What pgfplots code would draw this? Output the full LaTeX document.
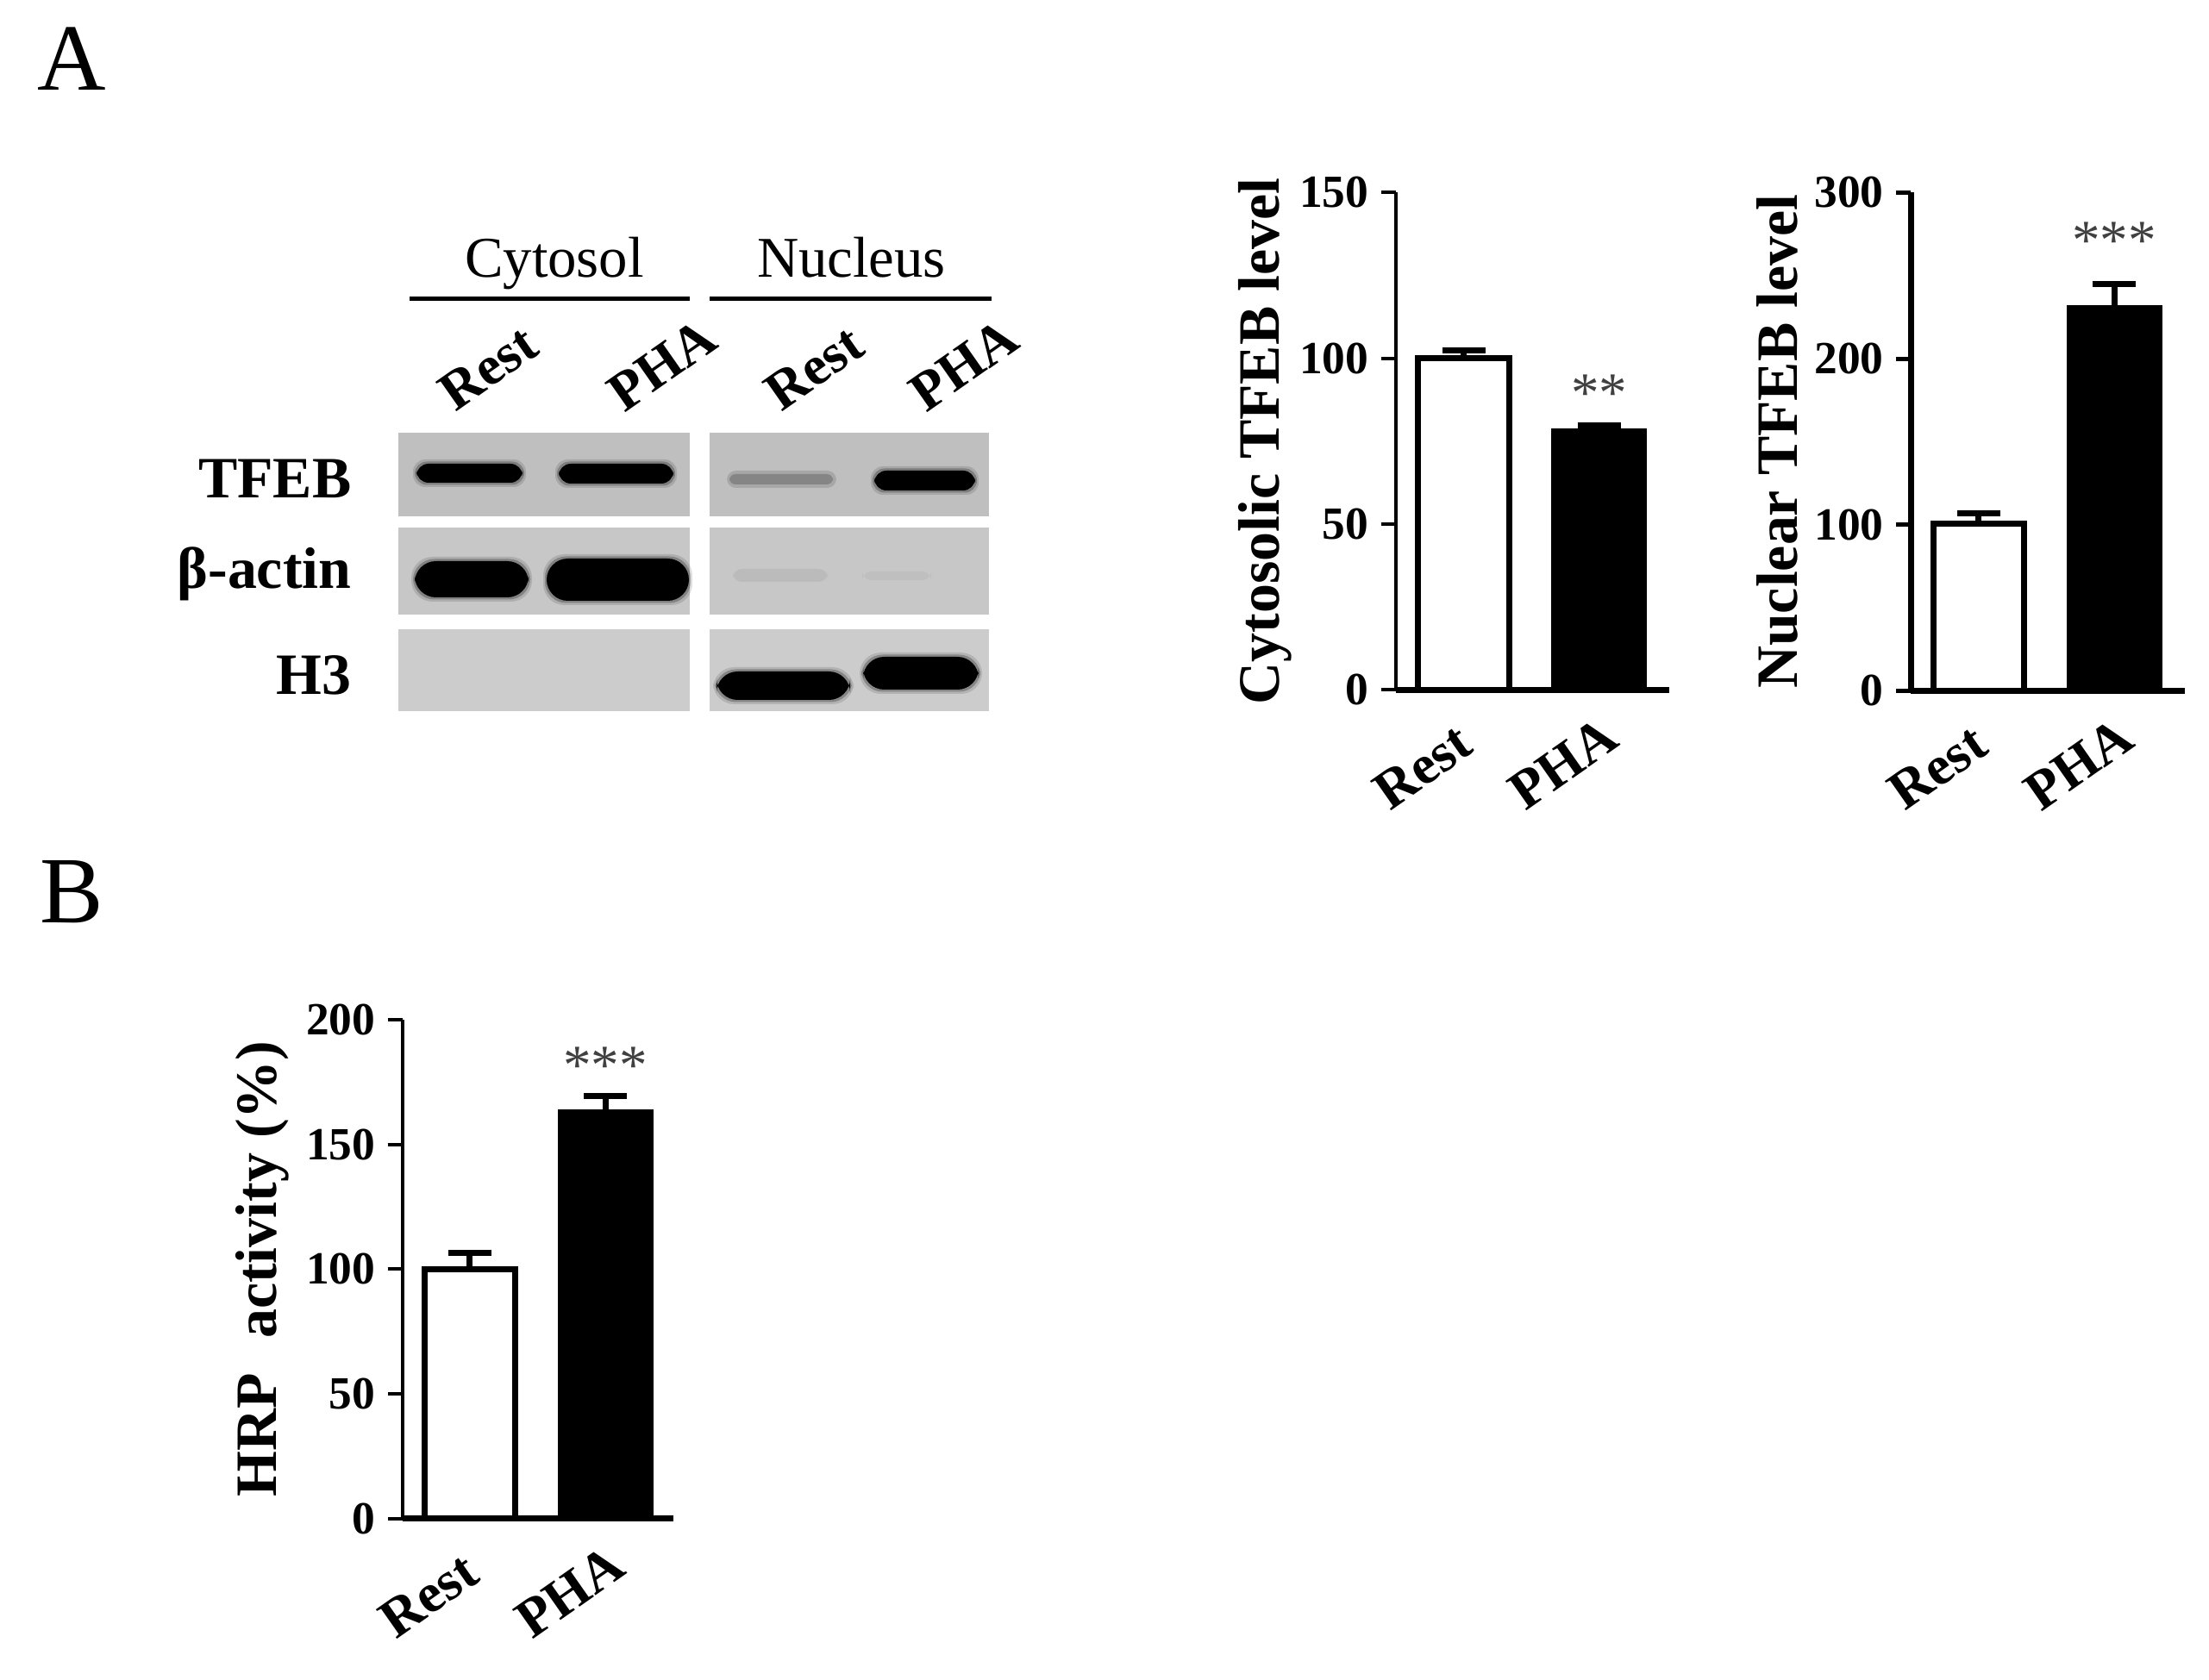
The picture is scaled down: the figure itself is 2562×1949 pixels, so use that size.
\documentclass[border=0pt]{standalone}
\usepackage{pgfplots}
\pgfplotsset{compat=1.18}
\usepackage{fontspec}
\setmainfont{Liberation Serif}

% font sizes: 1 px of the reference = 0.01cm
\newcommand\tickfont{\fontsize{15.2pt}{17pt}\selectfont\bfseries}
\newcommand\labfont{\fontsize{19.3pt}{22pt}\selectfont\bfseries}
\newcommand\catfont{\fontsize{18.2pt}{22pt}\selectfont\bfseries}
\newcommand\rowfont{\fontsize{19.3pt}{22pt}\selectfont\bfseries}
\newcommand\hdrfont{\fontsize{19pt}{22pt}\selectfont}
\newcommand\starfont{\fontsize{18.5pt}{22pt}\selectfont}
\newcommand\panelfont{\fontsize{31.3pt}{36pt}\selectfont}

\definecolor{bgA}{gray}{0.75}
\definecolor{bgB}{gray}{0.78}
\definecolor{bgC}{gray}{0.80}
\definecolor{star}{gray}{0.25}

\tikzset{stars/.style={font=\starfont, text=star, anchor=base, inner sep=0pt}}

\pgfplotsset{
  barpanel/.style={
    scale only axis, anchor=south west, clip=false, enlargelimits=false,
    axis x line*=bottom, axis y line*=left,
    x axis line style={-, line width=0.07cm},
    y axis line style={-, line width=0.033cm},
    ymin=0, xmin=-0.5,
    xtick={0,1}, xticklabels={Rest,PHA},
    tick align=outside, major tick length=0.17cm,
    x tick style={draw=none},
    y tick style={line width=0.04cm, black},
    /pgf/number format/assume math mode=true,
    yticklabel style={font=\tickfont, inner sep=0pt, xshift=-0.14cm},
    xticklabel style={font=\catfont, xshift=-0.85cm, yshift=-1.25cm,
                      rotate=35, anchor=south west, inner sep=0pt},
    ylabel style={font=\labfont, anchor=base},
    ybar,
  },
  errs/.style={
    error bars/y dir=plus, error bars/y explicit,
    error bars/error bar style={line width=0.07cm, black},
    error bars/error mark options={rotate=90, line width=0.07cm, black, mark size=0.25cm},
  },
  restbar/.style={fill=white, draw=black, line width=0.07cm,
                  bar width=0.67, bar shift=0pt, errs},
  phabar/.style={fill=black, draw=black, line width=0.01cm,
                 bar width=0.70, bar shift=0pt, errs},
}

\begin{document}
\begin{tikzpicture}[x=0.01cm, y=-0.01cm]
\useasboundingbox (0,0) rectangle (2562,1949);

% panel letters
\node[font=\panelfont, anchor=base west, inner sep=0pt] at (43,105) {A};
\node[font=\panelfont, anchor=base west, inner sep=0pt] at (46,1071) {B};

% ---- western blot (schematic) ----
\node[font=\hdrfont, anchor=base, inner sep=0pt] at (643,322) {Cytosol};
\node[font=\hdrfont, anchor=base, inner sep=0pt] at (987.5,322) {Nucleus};
\draw[line width=0.047cm] (475,346.7) -- (800,346.7);
\draw[line width=0.047cm] (823,346.7) -- (1150,346.7);

\foreach \xx/\lab in {529/Rest, 724/PHA, 907/Rest, 1074/PHA}
  \node[font=\catfont, rotate=35, anchor=south west, inner sep=0pt] at (\xx,480) {\lab};

\node[font=\rowfont, anchor=base east, inner sep=0pt] at (408,578) {TFEB};
\node[font=\rowfont, anchor=base east, inner sep=0pt] at (408,683) {β-actin};
\node[font=\rowfont, anchor=base east, inner sep=0pt] at (408,806) {H3};

\fill[bgA] (461.7,501.7) rectangle (800,599);
\fill[bgB] (461.7,612.3) rectangle (800,713.3);
\fill[bgC] (461.7,730) rectangle (800,825);
\fill[bgA] (822.7,501.7) rectangle (1147.3,599);
\fill[bgB] (822.7,612.3) rectangle (1147.3,713.3);
\fill[bgC] (822.7,730) rectangle (1147.3,825);

% bands: layered fills give soft edges
\foreach \a/\b/\c/\d/\r in {482/538/607/560/4, 647/538/782/561/4, 1013/546/1132/569/4,
                            480/651/614/693/7, 633/648/800/697/7,
                            830/779/987/812/7, 1000/762/1136/800/7}{
  \fill[black, opacity=0.12, rounded corners=\r pt] (\a-3,\b-5) rectangle (\c+3,\d+5);
  \fill[black, opacity=0.25, rounded corners=\r pt] (\a-1,\b-2.5) rectangle (\c+1,\d+2.5);
  \fill[black, rounded corners=\r pt] (\a+1,\b) rectangle (\c-1,\d);
}
\fill[black, opacity=0.12, rounded corners=3pt] (843,546) rectangle (970,566);
\fill[black, opacity=0.2, rounded corners=2pt] (846,550) rectangle (966,562);
\fill[black, opacity=0.06, rounded corners=3pt] (850,660) rectangle (960,675);
\fill[black, opacity=0.04, rounded corners=3pt] (1000,663) rectangle (1080,673);

% ---- cytosolic TFEB ----
\begin{axis}[barpanel, at={(16.18cm,-8.00cm)}, width=3.17cm, height=5.767cm,
  xmax=1.517, ymax=150, ytick={0,50,100,150},
  ylabel={Cytosolic TFEB level},
  ylabel style={at={(axis description cs:-0.426,0.5)}}]
\addplot[restbar] coordinates {(0,100) +- (0,2.4)};
\addplot[phabar] coordinates {(1,78.8) +- (0,1.0)};
\node[stars] at (axis cs:1,83.9) {**};
\end{axis}

% ---- nuclear TFEB ----
\begin{axis}[barpanel, at={(22.15cm,-8.008cm)}, width=3.18cm, height=5.775cm,
  xmax=1.523, ymax=300, ytick={0,100,200,300},
  y axis line style={line width=0.07cm},
  y tick style={line width=0.05cm},
  ylabel={Nuclear TFEB level},
  ylabel style={at={(axis description cs:-0.414,0.5)}}]
\addplot[restbar] coordinates {(0,100.5) +- (0,6.5)};
\addplot[phabar] coordinates {(1,232) +- (0,13)};
\node[stars] at (axis cs:1,259.9) {***};
\end{axis}

% ---- HRP activity ----
\begin{axis}[barpanel, at={(4.667cm,-17.606cm)}, width=3.142cm, height=5.783cm,
  xmin=-0.495, xmax=1.504, ymax=200, ytick={0,50,100,150,200},
  ylabel={HRP\hspace{0.35em} activity (\%)},
  ylabel style={at={(axis description cs:-0.467,0.5)}}]
\addplot[restbar] coordinates {(0,100) +- (0,6.6)};
\addplot[phabar] coordinates {(1,164) +- (0,5.5)};
\node[stars] at (axis cs:1,174.1) {***};
\end{axis}
\end{tikzpicture}
\end{document}
